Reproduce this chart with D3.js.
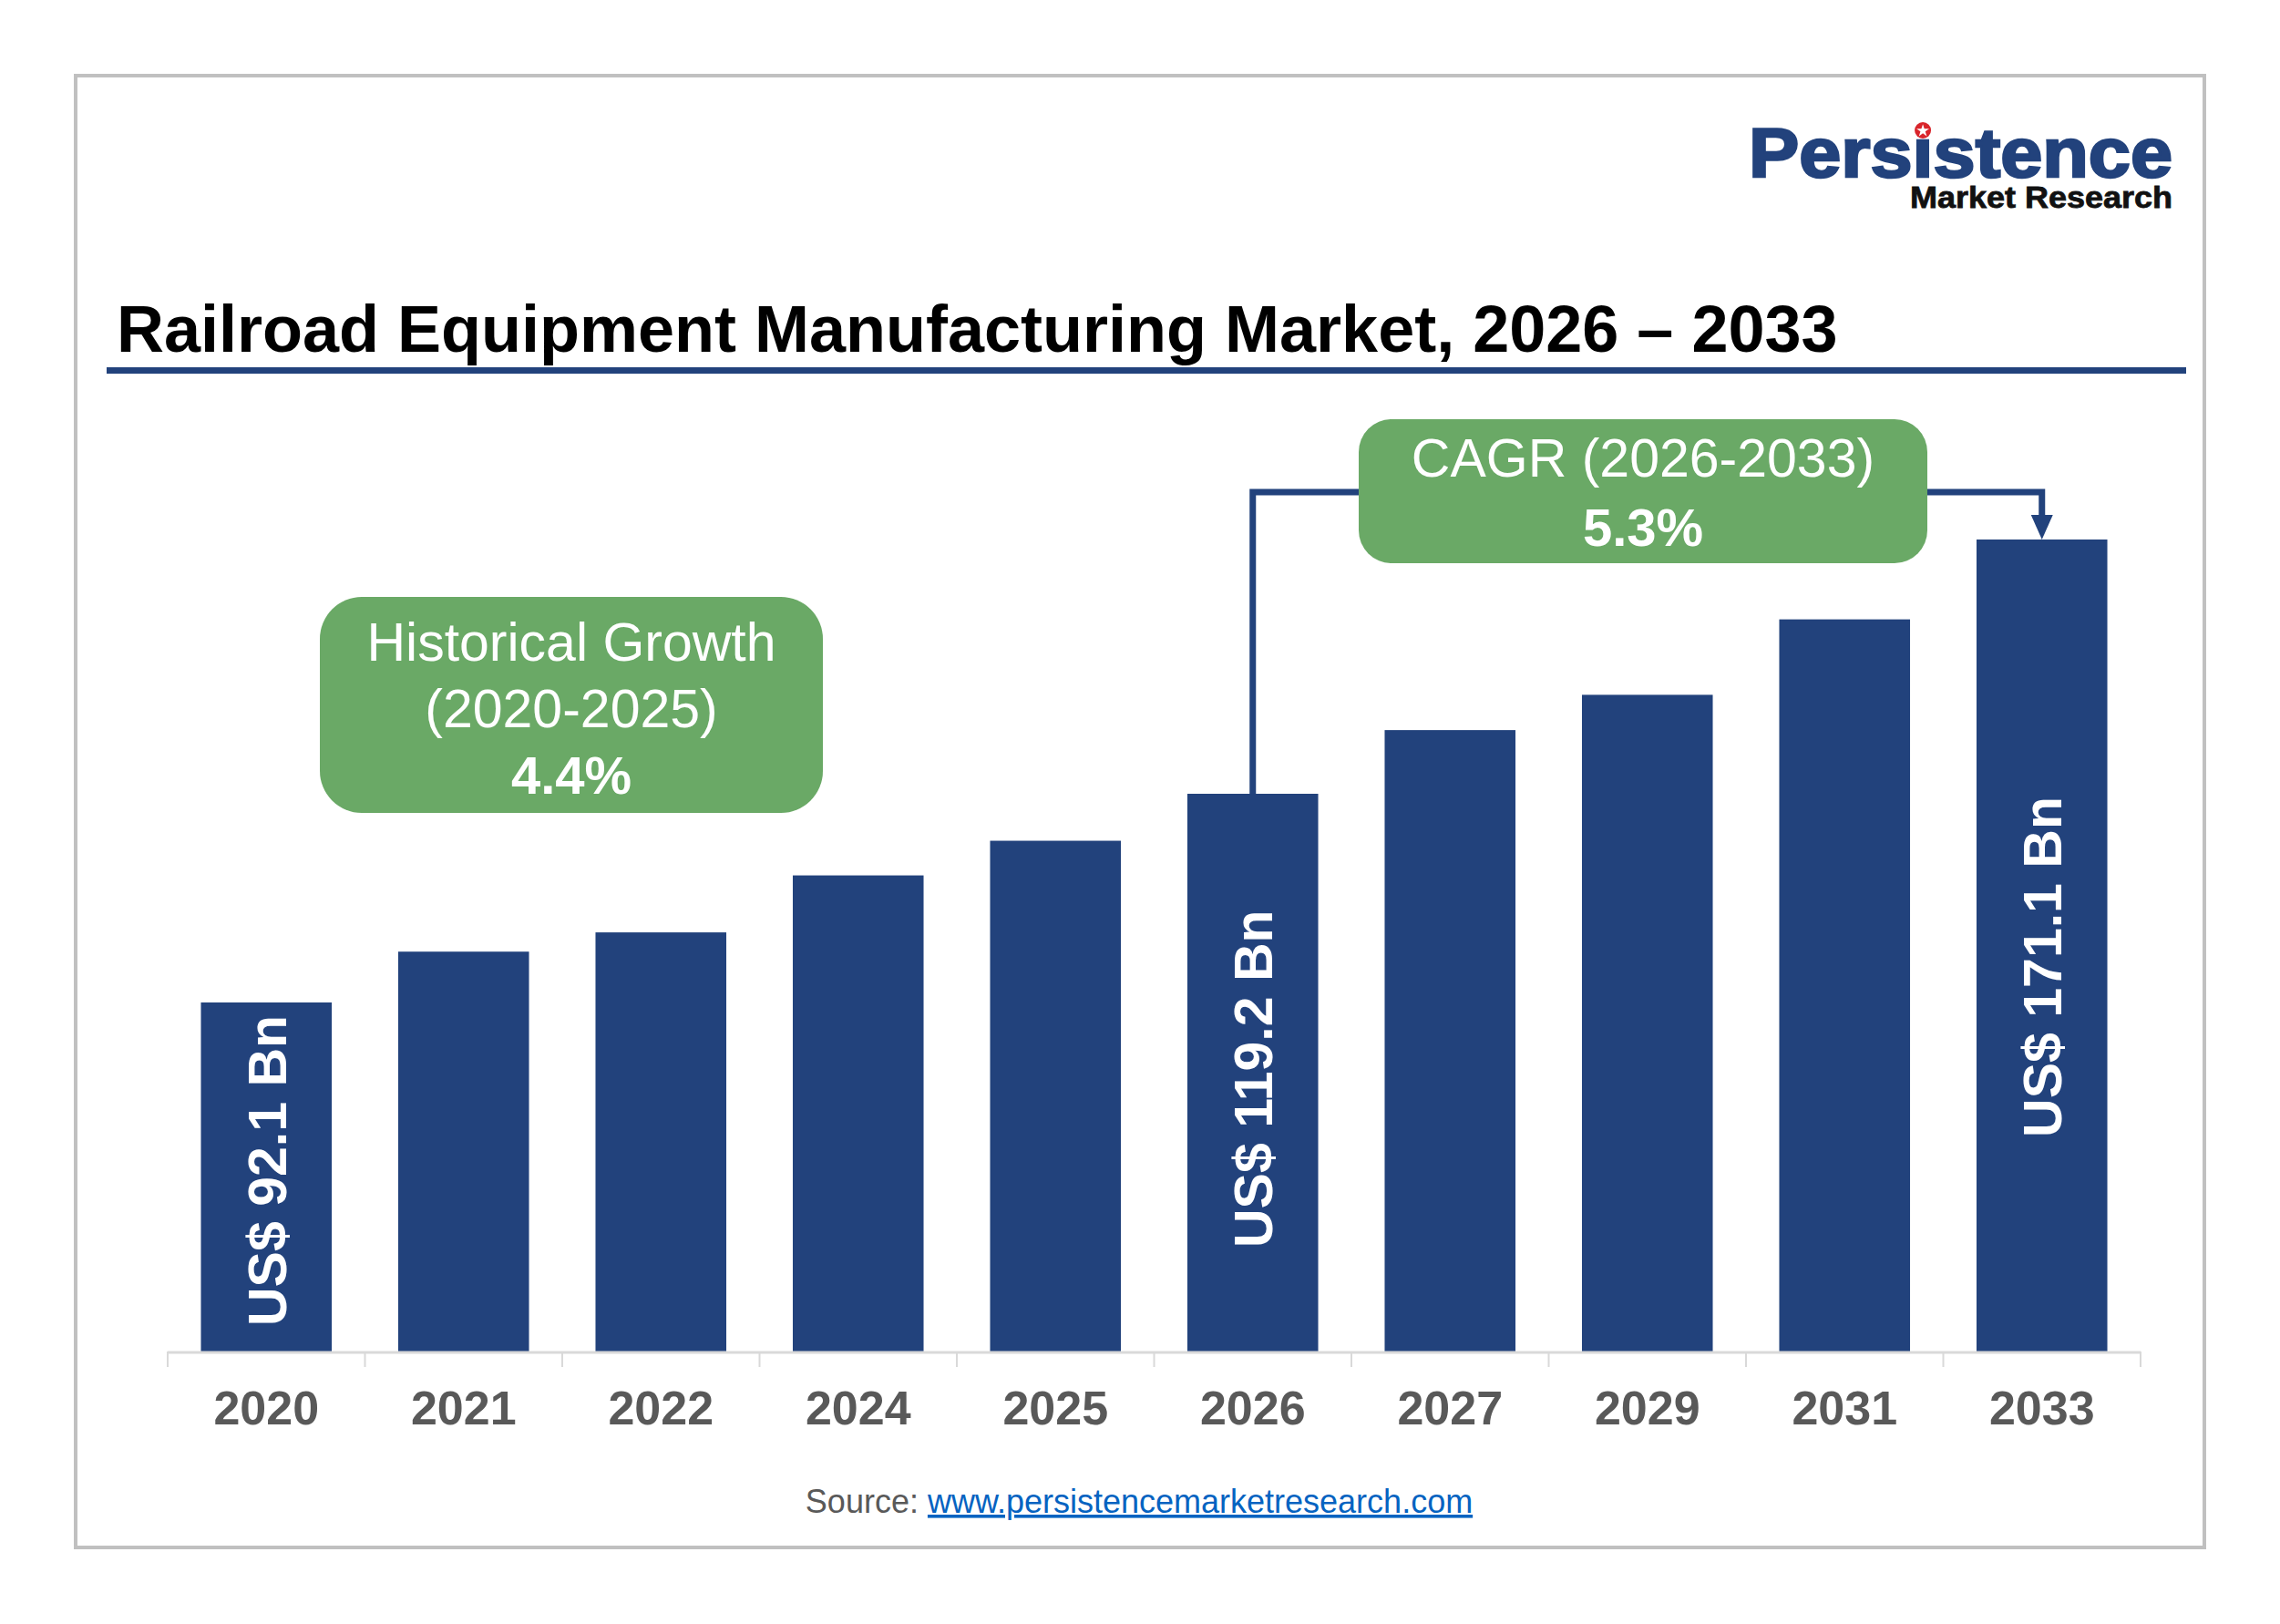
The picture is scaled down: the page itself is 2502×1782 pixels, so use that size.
<!DOCTYPE html>
<html>
<head>
<meta charset="utf-8">
<script src="https://cdn.jsdelivr.net/npm/d3@7"></script>
<style>
  html, body { margin: 0; padding: 0; background: #fff; }
  svg { display: block; font-family: "Liberation Sans", Arial, sans-serif; }
</style>
</head>
<body>
<svg id="chart" width="2502" height="1782"></svg>
<script>
// chart data
const years = ["2020", "2021", "2022", "2024", "2025", "2026", "2027", "2029", "2031", "2033"];
const marketSize = [92.1, 98.7, 101.2, 108.6, 113.1, 119.2, 132.2, 139.4, 154.8, 171.1]; // US$ Bn
const labelledYears = ["2020", "2026", "2033"];
const historicalLines = ["Historical Growth", "(2020-2025)"];
const historicalCagr = "4.4%";
const forecastLines = ["CAGR (2026-2033)"];
const forecastCagr = "5.3%";
const cagrFrom = "2026";
const cagrTo = "2033";

const titleText = "Railroad Equipment Manufacturing Market, 2026 \u2013 2033";
const sourceUrl = "www.persistencemarketresearch.com";

const barColor = "#22427c";
const greenColor = "#6aa966";
const tickColor = "#595959";

const width = 2502;
const height = 1782;
const svg = d3.select("#chart");

const rows = years.map((year, i) => ({ year, value: marketSize[i] }));
const valueOf = (year) => rows.find((d) => d.year === year).value;

// frame
svg.append("rect")
  .attr("x", 83).attr("y", 83)
  .attr("width", 2336).attr("height", 1615)
  .attr("fill", "#fff")
  .attr("stroke", "#c0c0c0")
  .attr("stroke-width", 4);

// logo
const logo = svg.append("g").attr("class", "logo");
const logoWord = logo.append("text")
  .attr("x", 1919).attr("y", 194)
  .attr("font-size", 76)
  .attr("font-weight", 700)
  .attr("fill", barColor)
  .attr("stroke", barColor)
  .attr("stroke-width", 2.5)
  .attr("textLength", 465)
  .attr("lengthAdjust", "spacingAndGlyphs")
  .text("Persistence");
logo.append("text")
  .attr("x", 2384).attr("y", 228)
  .attr("text-anchor", "end")
  .attr("font-size", 34)
  .attr("font-weight", 700)
  .attr("fill", "#111")
  .attr("stroke", "#111")
  .attr("stroke-width", 0.8)
  .attr("textLength", 288)
  .attr("lengthAdjust", "spacingAndGlyphs")
  .text("Market Research");
// red star-dot over the first "i"
const iBox = logoWord.node().getExtentOfChar(4);
const dotX = iBox.x + iBox.width / 2;
logo.append("circle")
  .attr("cx", dotX)
  .attr("cy", 143)
  .attr("r", 9)
  .attr("fill", "#d9252b");
logo.append("path")
  .attr("transform", `translate(${dotX}, 143.5)`)
  .attr("d", d3.symbol(d3.symbolStar, 60)())
  .attr("fill", "#fff");

// title
svg.append("text")
  .attr("x", 128).attr("y", 386)
  .attr("font-size", 72)
  .attr("font-weight", 700)
  .attr("fill", "#000")
  .text(titleText);
svg.append("rect")
  .attr("x", 117).attr("y", 403)
  .attr("width", 2282).attr("height", 7)
  .attr("fill", barColor);

// scales
const baseY = 1483;
const x = d3.scaleBand()
  .domain(years)
  .range([184, 2349])
  .paddingInner(0.337)
  .paddingOuter(0.1685);

// bars are not drawn to a single linear ratio in the source; anchor at the labelled values
const labelledValues = labelledYears.map(valueOf);
const y = d3.scaleLinear()
  .domain([0, ...labelledValues])
  .range([baseY, 1100, 871, 592]);

// bars
svg.append("g").attr("class", "bars")
  .selectAll("rect")
  .data(rows)
  .join("rect")
  .attr("x", (d) => x(d.year))
  .attr("y", (d) => y(d.value))
  .attr("width", x.bandwidth())
  .attr("height", (d) => baseY - y(d.value))
  .attr("fill", barColor);

// value labels inside bars: short bars keep the label low, tall bars push it down a bit more
svg.append("g").attr("class", "value-labels")
  .selectAll("text")
  .data(rows.filter((d) => labelledYears.includes(d.year)))
  .join("text")
  .attr("transform", (d) => {
    const top = y(d.value);
    const h = baseY - top;
    const mid = (top + baseY) / 2 + h * 0.06 - 30;
    return `translate(${x(d.year) + x.bandwidth() / 2}, ${mid}) rotate(-90)`;
  })
  .attr("text-anchor", "middle")
  .attr("dy", "0.36em")
  .attr("font-size", 59)
  .attr("font-weight", 700)
  .attr("fill", "#fff")
  .text((d) => `US$ ${d.value} Bn`);

// x axis: line + boundary ticks
const axisG = svg.append("g").attr("class", "axis axis--x");
const step = x.step();
const gap = step * x.paddingInner();
axisG.append("line")
  .attr("x1", x.range()[0]).attr("x2", x.range()[1])
  .attr("y1", baseY + 1).attr("y2", baseY + 1)
  .attr("stroke", "#d9d9d9")
  .attr("stroke-width", 3);
const boundaries = years.map((yr) => x(yr) - gap / 2).concat([x(years[years.length - 1]) + x.bandwidth() + gap / 2]);
axisG.selectAll(".boundary")
  .data(boundaries)
  .join("line")
  .attr("class", "boundary")
  .attr("x1", (d) => d).attr("x2", (d) => d)
  .attr("y1", baseY).attr("y2", baseY + 17)
  .attr("stroke", "#d9d9d9")
  .attr("stroke-width", 2);

const labelsG = svg.append("g")
  .attr("transform", `translate(0, ${baseY})`)
  .call(d3.axisBottom(x).tickSize(0).tickPadding(43));
labelsG.select(".domain").remove();
labelsG.selectAll("text")
  .attr("font-family", "\"Liberation Sans\", Arial, sans-serif")
  .attr("font-size", 52)
  .attr("font-weight", 700)
  .attr("fill", tickColor);

// historical growth box
const hist = svg.append("g").attr("class", "hist-box");
hist.append("rect")
  .attr("x", 351).attr("y", 655)
  .attr("width", 552).attr("height", 237)
  .attr("rx", 46)
  .attr("fill", greenColor);
hist.selectAll(".line")
  .data(historicalLines)
  .join("text")
  .attr("class", "line")
  .attr("x", 627)
  .attr("y", (d, i) => 725 + i * 73)
  .attr("text-anchor", "middle")
  .attr("font-size", 59)
  .attr("fill", "#fff")
  .text((d) => d);
hist.append("text")
  .attr("x", 627).attr("y", 871)
  .attr("text-anchor", "middle")
  .attr("font-size", 58)
  .attr("font-weight", 700)
  .attr("fill", "#fff")
  .text(historicalCagr);

// CAGR connector
const connY = 540;
const fromX = x(cagrFrom) + x.bandwidth() / 2;
const toX = x(cagrTo) + x.bandwidth() / 2;
const toTop = y(valueOf(cagrTo));
const arrowLen = 27;
svg.append("path")
  .attr("d", `M${fromX},${y(valueOf(cagrFrom))}V${connY}H${toX}V${toTop - arrowLen}`)
  .attr("fill", "none")
  .attr("stroke", barColor)
  .attr("stroke-width", 7);
svg.append("path")
  .attr("d", `M${toX - 12},${toTop - arrowLen}L${toX + 12},${toTop - arrowLen}L${toX},${toTop}Z`)
  .attr("fill", barColor);

// CAGR box
const cagr = svg.append("g").attr("class", "cagr-box");
cagr.append("rect")
  .attr("x", 1491).attr("y", 460)
  .attr("width", 624).attr("height", 158)
  .attr("rx", 36)
  .attr("fill", greenColor);
cagr.selectAll(".line")
  .data(forecastLines)
  .join("text")
  .attr("class", "line")
  .attr("x", 1803).attr("y", 523)
  .attr("text-anchor", "middle")
  .attr("font-size", 59)
  .attr("fill", "#fff")
  .text((d) => d);
cagr.append("text")
  .attr("x", 1803).attr("y", 599)
  .attr("text-anchor", "middle")
  .attr("font-size", 58)
  .attr("font-weight", 700)
  .attr("fill", "#fff")
  .text(forecastCagr);

// source
const source = svg.append("text")
  .attr("x", 1250).attr("y", 1660)
  .attr("text-anchor", "middle")
  .attr("font-size", 36);
source.append("tspan").attr("fill", tickColor).text("Source: ");
source.append("tspan")
  .attr("fill", "#0563c1")
  .attr("text-decoration", "underline")
  .text(sourceUrl);
</script>
</body>
</html>
